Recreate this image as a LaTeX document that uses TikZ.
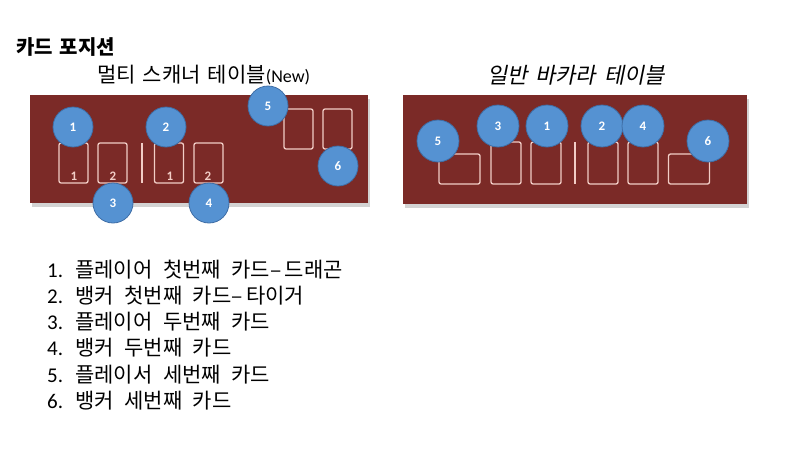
\documentclass[tikz,border=0pt]{standalone}
\usepackage{fontspec}
\setmainfont{Carlito}
\newfontfamily\kr[WordSpace=1.6]{Noto Sans CJK KR}
\newfontfamily\krwide[WordSpace=1.5]{Noto Sans CJK KR}
\newfontfamily\krslant[FakeSlant=0.2, WordSpace=1.6]{Noto Sans CJK KR}
\usetikzlibrary{positioning, shadows}
\definecolor{tablered}{HTML}{7B2A27}
\definecolor{chipblue}{HTML}{5592D2}
\definecolor{chipedge}{HTML}{3F6EA6}
\definecolor{cardline}{HTML}{F2CDC6}

\tikzset{
  tablebox/.style={fill=tablered, draw=none, inner sep=0pt,
    drop shadow={shadow xshift=2pt, shadow yshift=-4pt, opacity=0.35}},
  card/.style={draw=cardline, line width=1.3pt, rounded corners=2pt, inner sep=0pt,
    minimum width=29pt, minimum height=40pt},
  flatcard/.style={card, minimum width=41pt, minimum height=30pt},
  chip/.style={circle, fill=chipblue, draw=chipedge, line width=0.8pt, inner sep=0pt,
    minimum size=40pt, text=white, font=\bfseries\fontsize{13}{14}\selectfont},
  cardnum/.style={text=cardline, inner sep=0pt, font=\bfseries\fontsize{13}{14}\selectfont},
  listline/.style={anchor=west, inner sep=0pt, font=\fontsize{21}{24}\selectfont}
}

\begin{document}
\begin{tikzpicture}[x=1pt, y=-1pt]
    \useasboundingbox (0,0) rectangle (787,450);

    % Headings
    \node[anchor=west, inner sep=0pt] (title) at (16,47) {\kr\bfseries\fontsize{20}{22}\selectfont 카드 포지션};
    \node[anchor=west, inner sep=0pt] (multititle) at (97,75) {\fontsize{21}{26}\selectfont{\kr 멀티 스캐너 테이블}{\fontsize{18}{22}\selectfont(New)}};
    \node[inner sep=0pt] (normaltitle) at (576,75) {\krslant\fontsize{22}{26}\selectfont 일반 바카라 테이블};

    % Multi scanner table
    \node[tablebox, minimum width=338pt, minimum height=108pt] (multi) at (199,149) {};

    \node[card] (mA) at (73.5,163) {};
    \node[card] (mB) at (112.5,163) {};
    \node[card] (mC) at (169,163) {};
    \node[card] (mD) at (208.5,163) {};
    \node[card] (mE) at (298.5,129) {};
    \node[card] (mF) at (337.5,129) {};
    \draw[draw=cardline, line width=1.5pt] (142,143) -- (142,183);

    \node[cardnum] (mAn) at (74,176) {1};
    \node[cardnum] (mBn) at (113,176) {2};
    \node[cardnum] (mCn) at (170,176) {1};
    \node[cardnum] (mDn) at (208,176) {2};

    \node[chip] (m1) at (73,127) {1};
    \node[chip] (m2) at (166,127) {2};
    \node[chip] (m3) at (113,203) {3};
    \node[chip] (m4) at (209,203) {4};
    \node[chip] (m5) at (268,106) {5};
    \node[chip] (m6) at (338,166) {6};

    % Normal baccarat table
    \node[tablebox, minimum width=344pt, minimum height=109pt] (normal) at (575,149.5) {};

    \node[flatcard] (nA) at (459.5,169) {};
    \node[card, minimum width=30pt, minimum height=42pt] (nB) at (506,163) {};
    \node[card, minimum width=30pt, minimum height=42pt] (nC) at (546,163) {};
    \node[card, minimum width=30pt, minimum height=42pt] (nD) at (603,163) {};
    \node[card, minimum width=30pt, minimum height=42pt] (nE) at (643,163) {};
    \node[flatcard] (nF) at (689,169) {};
    \draw[draw=cardline, line width=1.5pt] (575,142) -- (575,184);

    \node[chip, minimum size=42pt] (n5) at (438,141) {5};
    \node[chip, minimum size=42pt] (n3) at (498,126) {3};
    \node[chip, minimum size=42pt] (n1) at (547,126) {1};
    \node[chip, minimum size=42pt] (n2) at (602,126) {2};
    \node[chip, minimum size=42pt] (n4) at (643,126) {4};
    \node[chip, minimum size=42pt] (n6) at (708,141) {6};

    % Legend
    \node[listline] (item1) at (47,270) {\makebox[28pt][l]{1.}\krwide 플레이어 첫번째 카드–\,드래곤};
    \node[listline] (item2) at (47,296) {\makebox[28pt][l]{2.}\krwide 뱅커 첫번째 카드–\,타이거};
    \node[listline] (item3) at (47,322) {\makebox[28pt][l]{3.}\krwide 플레이어 두번째 카드};
    \node[listline] (item4) at (47,348) {\makebox[28pt][l]{4.}\krwide 뱅커 두번째 카드};
    \node[listline] (item5) at (47,375) {\makebox[28pt][l]{5.}\krwide 플레이서 세번째 카드};
    \node[listline] (item6) at (47,401) {\makebox[28pt][l]{6.}\krwide 뱅커 세번째 카드};

\end{tikzpicture}
\end{document}
